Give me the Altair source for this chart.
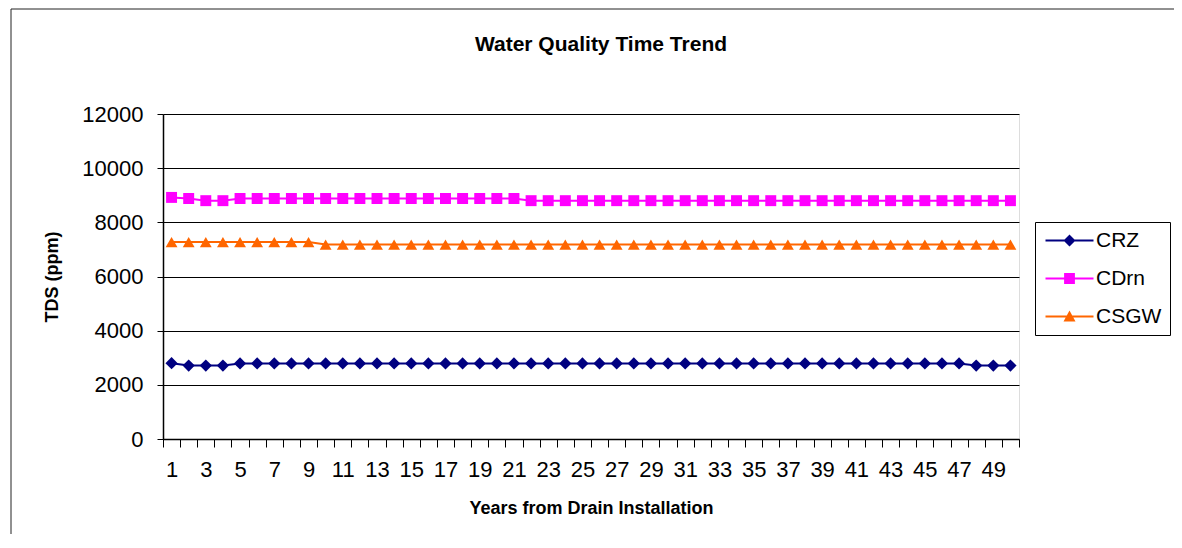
import altair as alt
import pandas as pd

years = list(range(1, 51))

series_names = ["CRZ", "CDrn", "CSGW"]
series_colors = ["#000080", "#FF00FF", "#FF6600"]
marker_shapes = ["diamond", "square", "triangle-up"]
marker_sizes = [150, 120, 140]

crz = [2800, 2710, 2710, 2710, 2790, 2790, 2790, 2790, 2790, 2790,
       2790, 2790, 2790, 2790, 2790, 2790, 2790, 2790, 2790, 2790,
       2790, 2790, 2790, 2790, 2790, 2790, 2790, 2790, 2790, 2790,
       2790, 2790, 2790, 2790, 2790, 2790, 2790, 2790, 2790, 2790,
       2790, 2790, 2790, 2790, 2790, 2790, 2790, 2710, 2710, 2710]
cdrn = [8920, 8880, 8800, 8800, 8880, 8880, 8880, 8880, 8880, 8880,
        8880, 8880, 8880, 8880, 8880, 8880, 8880, 8880, 8880, 8880,
        8880, 8800, 8800, 8800, 8800, 8800, 8800, 8800, 8800, 8800,
        8800, 8800, 8800, 8800, 8800, 8800, 8800, 8800, 8800, 8800,
        8800, 8800, 8800, 8800, 8800, 8800, 8800, 8800, 8800, 8800]
csgw = [7270, 7270, 7270, 7270, 7270, 7270, 7270, 7270, 7270, 7180,
        7180, 7180, 7180, 7180, 7180, 7180, 7180, 7180, 7180, 7180,
        7180, 7180, 7180, 7180, 7180, 7180, 7180, 7180, 7180, 7180,
        7180, 7180, 7180, 7180, 7180, 7180, 7180, 7180, 7180, 7180,
        7180, 7180, 7180, 7180, 7180, 7180, 7180, 7180, 7180, 7180]

y_ticks = [0, 2000, 4000, 6000, 8000, 10000, 12000]

# legend symbols: a thin bar (line) plus the marker, both filled
legend_paths = [
    "M-4,-0.17L4,-0.17L4,0.17L-4,0.17Z M0,-1L1,0L0,1L-1,0Z",
    "M-4,-0.17L4,-0.17L4,0.17L-4,0.17Z M-0.9,-0.9L0.9,-0.9L0.9,0.9L-0.9,0.9Z",
    "M-4,-0.17L4,-0.17L4,0.17L-4,0.17Z M0,-1L1,0.85L-1,0.85Z",
]

rows = []
for name, vals in zip(series_names, [crz, cdrn, csgw]):
    for yr, v in zip(years, vals):
        rows.append({"year": yr, "value": v, "series": name})
df = pd.DataFrame(rows)

FONT = "Liberation Sans"
W, H = 856, 325

x_enc = alt.X(
    "year:O",
    sort=years,
    scale=alt.Scale(type="band", paddingInner=0, paddingOuter=0),
    axis=alt.Axis(
        tickBand="extent",
        labelExpr="datum.value % 2 == 1 ? datum.label : ''",
        labelAngle=0,
        labelOverlap=False,
        labelBound=False,
        grid=False,
        tickSize=8,
        tickColor="black",
        domainColor="black",
        domainWidth=1.5,
        labelFont=FONT,
        labelFontSize=22,
        labelColor="black",
        labelPadding=12,
        title="Years from Drain Installation",
        titleFont=FONT,
        titleFontSize=18,
        titleFontWeight="bold",
        titleColor="black",
        titlePadding=19,
    ),
)
y_enc = alt.Y(
    "value:Q",
    scale=alt.Scale(domain=[0, 12000], nice=False),
    axis=alt.Axis(
        values=y_ticks,
        format="d",
        grid=True,
        gridColor="black",
        gridWidth=1,
        tickSize=6,
        tickColor="black",
        domainColor="black",
        domainWidth=1.5,
        labelFont=FONT,
        labelFontSize=22,
        labelColor="black",
        labelPadding=14,
        title="TDS (ppm)",
        titleFont=FONT,
        titleFontSize=18,
        titleFontWeight="bold",
        titleColor="black",
        titlePadding=20,
    ),
)

# line colours: same colours, listed in another order so this scale keeps no legend of its own
stroke_order = [1, 0, 2]
stroke_scale = alt.Scale(
    domain=[series_names[i] for i in stroke_order],
    range=[series_colors[i] for i in stroke_order],
)
color_scale = alt.Scale(domain=series_names, range=series_colors)

base = alt.Chart(df)

lines = base.mark_line(strokeWidth=2).encode(
    x=x_enc, y=y_enc,
    stroke=alt.Stroke("series:N", scale=stroke_scale, legend=None),
    detail="series:N",
)

point_layers = []
for name, col, shp, sz in zip(series_names, series_colors, marker_shapes, marker_sizes):
    point_layers.append(
        base.transform_filter(alt.datum.series == name)
        .mark_point(filled=True, shape=shp, size=sz, color=col, opacity=1)
        .encode(x=x_enc, y=y_enc)
    )

leg = alt.Legend(
    title=None,
    orient="none",
    legendX=872,
    legendY=108,
    direction="vertical",
    labelFont=FONT,
    labelFontSize=21,
    labelColor="black",
    symbolSize=144,
    symbolStrokeWidth=0,
    symbolOpacity=1,
    symbolOffset=16,
    labelOffset=16,
    rowPadding=16,
    padding=8,
    strokeColor="black",
    fillColor="white",
    cornerRadius=0,
)

legend_layer = base.mark_point(filled=True, opacity=0, size=144).encode(
    x=x_enc, y=y_enc,
    color=alt.Color("series:N", scale=color_scale, legend=leg),
    shape=alt.Shape("series:N", scale=alt.Scale(domain=series_names, range=legend_paths), legend=leg),
)

frame_data = alt.Data(values=[{"k": 1}])
frame_left = alt.Chart(frame_data).mark_rule(color="#222222", strokeWidth=1).encode(
    x=alt.value(-152), y=alt.value(-105), y2=alt.value(440)
)
frame_top = alt.Chart(frame_data).mark_rule(color="#222222", strokeWidth=1).encode(
    x=alt.value(-152), x2=alt.value(1030), y=alt.value(-105)
)

chart = alt.layer(
    frame_left, frame_top, lines, *point_layers, legend_layer
).properties(
    width=W,
    height=H,
    title=alt.Title(
        "Water Quality Time Trend",
        font=FONT,
        fontSize=21,
        fontWeight="bold",
        color="black",
        anchor="middle",
        frame="group",
        dx=10,
        offset=-46,
    ),
    autosize=alt.AutoSizeParams(type="none"),
    padding={"left": 155, "top": 106, "right": 155, "bottom": 95},
).configure_view(
    stroke="#808080", strokeWidth=2
).configure(
    background="white"
)

chart.save("out.html", embed_options={"renderer": "svg", "actions": False})
